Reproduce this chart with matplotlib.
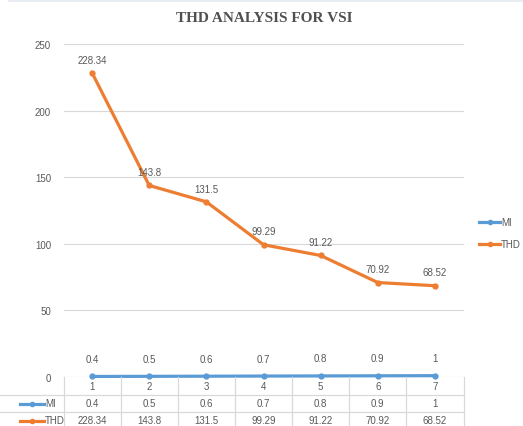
import matplotlib.pyplot as plt
from matplotlib.lines import Line2D
from matplotlib.patches import Rectangle

categories = [1, 2, 3, 4, 5, 6, 7]
mi_values = [0.4, 0.5, 0.6, 0.7, 0.8, 0.9, 1]
thd_values = [228.34, 143.8, 131.5, 99.29, 91.22, 70.92, 68.52]
mi_labels = ["0.4", "0.5", "0.6", "0.7", "0.8", "0.9", "1"]
thd_labels = ["228.34", "143.8", "131.5", "99.29", "91.22", "70.92", "68.52"]
y_ticks = [0, 50, 100, 150, 200, 250]

BLUE = "#5B9BD5"
ORANGE = "#ED7D31"
TEXT = "#595959"
GRID = "#D9D9D9"
FONT = ["Liberation Sans Narrow", "Liberation Sans", "DejaVu Sans"]

W, H = 523, 427
fig = plt.figure(figsize=(W / 100, H / 100), dpi=100)
fig.patch.set_facecolor("white")


def fx(px):
    return px / W


def fy(py):
    return 1 - py / H


def key(x0, x1, y, col):
    # small line-with-marker legend key
    fig.add_artist(Line2D([fx(x0), fx(x1)], [fy(y), fy(y)], color=col, lw=2.3))
    fig.add_artist(Line2D([fx((x0 + x1) / 2)], [fy(y)], color=col, marker="o", ms=3, lw=0))


left, right, top, bottom = 63.5, 463.5, 45, 378
ax = fig.add_axes([fx(left), fy(bottom), fx(right) - fx(left), fy(top) - fy(bottom)])
ax.set_xlim(0.5, 7.5)
ax.set_ylim(0, 250)
for s in ax.spines.values():
    s.set_visible(False)
ax.set_yticks(y_ticks)
ax.set_yticklabels([str(t) for t in y_ticks], family=FONT, fontsize=7, color=TEXT)
ax.tick_params(axis="y", length=0, pad=9)
ax.set_xticks([])
ax.grid(axis="y", color=GRID, linewidth=0.8)
ax.set_axisbelow(True)

ax.plot(categories, mi_values, color=BLUE, lw=2.3, marker="o", ms=3.5, zorder=3, clip_on=False)
ax.plot(categories, thd_values, color=ORANGE, lw=2.3, marker="o", ms=3.5, zorder=3, clip_on=False)

for x, v, lab in zip(categories, mi_values, mi_labels):
    ax.annotate(lab, (x, v), xytext=(0, 9), textcoords="offset points", ha="center",
                va="bottom", family=FONT, fontsize=7, color=TEXT)
for x, v, lab in zip(categories, thd_values, thd_labels):
    ax.annotate(lab, (x, v), xytext=(0, 6), textcoords="offset points", ha="center",
                va="bottom", family=FONT, fontsize=7, color=TEXT)

fig.text(0.505, fy(18), "THD ANALYSIS FOR VSI", ha="center", va="center",
         family=["Liberation Serif", "DejaVu Serif"], fontweight="bold", fontsize=11, color="#505050")

# data table under the axis
bin_w = (right - left) / 7
for y in [396, 413]:
    fig.add_artist(Line2D([0, fx(right)], [fy(y), fy(y)], color=GRID, lw=0.9))
for k in range(8):
    xk = fx(left + k * bin_w)
    fig.add_artist(Line2D([xk, xk], [fy(bottom), 0], color=GRID, lw=0.9))

row_y = [387, 404.5, 421.5]
for i, c in enumerate(categories):
    cx = fx(left + (i + 0.5) * bin_w)
    fig.text(cx, fy(row_y[0]), str(c), ha="center", va="center", family=FONT, fontsize=7, color=TEXT)
    fig.text(cx, fy(row_y[1]), mi_labels[i], ha="center", va="center", family=FONT, fontsize=7, color=TEXT)
    fig.text(cx, fy(row_y[2]), thd_labels[i], ha="center", va="center", family=FONT, fontsize=7, color=TEXT)

for y, col, name in [(row_y[1], BLUE, "MI"), (row_y[2], ORANGE, "THD")]:
    key(20, 44, y, col)
    fig.text(fx(45), fy(y), name, ha="left", va="center", family=FONT, fontsize=7, color=TEXT)

# legend on the right
for y, col, name in [(223, BLUE, "MI"), (245, ORANGE, "THD")]:
    key(479, 500, y, col)
    fig.text(fx(501), fy(y), name, ha="left", va="center", family=FONT, fontsize=7, color=TEXT)

fig.add_artist(Rectangle((fx(8), fy(2.5)), 1 - fx(8), 2.5 / H, color="#E8EDF3", lw=0))

fig.savefig("out.png", dpi=100)
